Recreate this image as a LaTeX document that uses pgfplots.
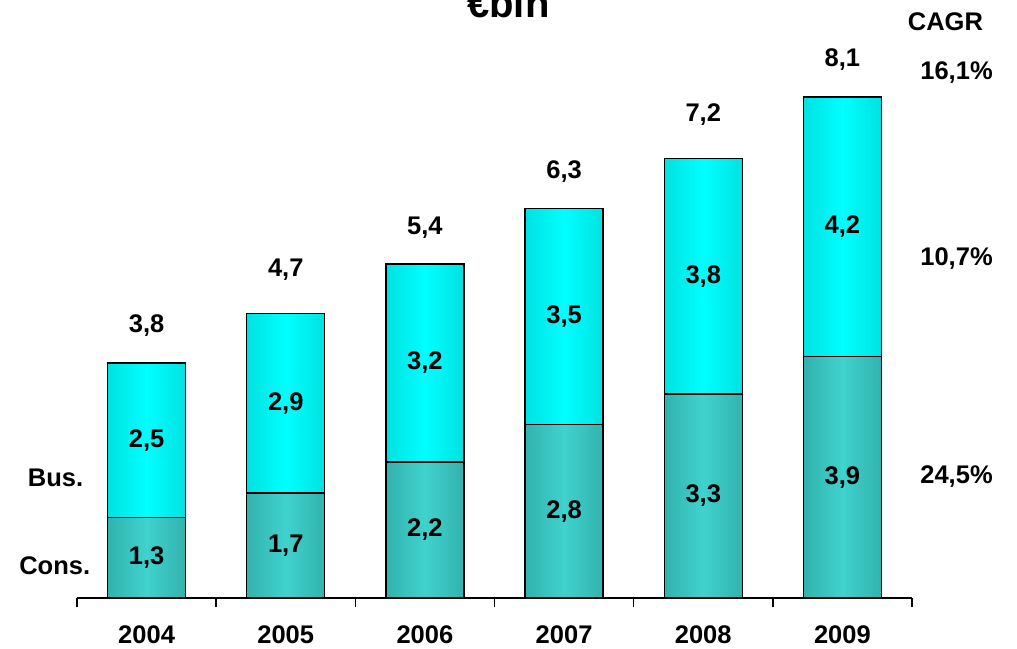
\documentclass[border=0pt]{standalone}
\usepackage{pgfplots}
\pgfplotsset{compat=1.18}
\usepackage{fontspec}
\setmainfont{Liberation Sans}
\definecolor{tealedge}{RGB}{36,146,142}
\definecolor{tealmid}{RGB}{64,210,206}
\definecolor{cyanedge}{RGB}{0,196,196}
\definecolor{cyanmid}{RGB}{0,255,255}
\pgfdeclarehorizontalshading{tealshade}{100bp}{color(0bp)=(tealedge); color(50bp)=(tealmid); color(100bp)=(tealedge)}
\pgfdeclarehorizontalshading{cyanshade}{100bp}{color(0bp)=(cyanedge); color(50bp)=(cyanmid); color(100bp)=(cyanedge)}
\tikzset{lbl/.style={font=\fontsize{25.5}{30}\selectfont\bfseries}}
\pgfplotsset{
  busbar/.style={draw=black, line width=1.3pt, shade, shading=cyanshade},
  consbar/.style={draw=black, line width=1.3pt, shade, shading=tealshade},
}
\begin{document}
\begin{tikzpicture}
\begin{axis}[
  set layers,
  at={(77pt,50pt)}, anchor=south west,
  scale only axis, width=835pt, height=587.6pt,
  xmin=-0.5, xmax=5.5, ymin=0, ymax=9.5,
  clip=false,
  hide y axis,
  axis x line=bottom,
  x axis line style={-, line width=1.5pt},
  xtick={0,1,2,3,4,5},
  xticklabels={2004,2005,2006,2007,2008,2009},
  major tick length=0pt,
  minor xtick={-0.5,0.5,1.5,2.5,3.5,4.5,5.5},
  minor tick length=9pt,
  tick align=outside,
  minor tick style={line width=1.5pt, black},
  xticklabel style={lbl, yshift=-24pt},
  ybar, bar width=0.56, bar shift=0pt,
]
% Bus. + Cons. (bar totals), one plot per bar so each bar gets its own shading
\addplot[busbar] coordinates {(0,3.8)};
\addplot[busbar] coordinates {(1,4.6)};
\addplot[busbar] coordinates {(2,5.4)};
\addplot[busbar] coordinates {(3,6.3)};
\addplot[busbar] coordinates {(4,7.1)};
\addplot[busbar] coordinates {(5,8.1)};
% Cons.
\addplot[consbar] coordinates {(0,1.3)};
\addplot[consbar] coordinates {(1,1.7)};
\addplot[consbar] coordinates {(2,2.2)};
\addplot[consbar] coordinates {(3,2.8)};
\addplot[consbar] coordinates {(4,3.3)};
\addplot[consbar] coordinates {(5,3.9)};
\begin{pgfonlayer}{axis foreground}
\node[lbl] at (axis cs:0,0.65) {1,3};
\node[lbl] at (axis cs:1,0.85) {1,7};
\node[lbl] at (axis cs:2,1.10) {2,2};
\node[lbl] at (axis cs:3,1.40) {2,8};
\node[lbl] at (axis cs:4,1.65) {3,3};
\node[lbl] at (axis cs:5,1.95) {3,9};
\node[lbl] at (axis cs:0,2.55) {2,5};
\node[lbl] at (axis cs:1,3.15) {2,9};
\node[lbl] at (axis cs:2,3.80) {3,2};
\node[lbl] at (axis cs:3,4.55) {3,5};
\node[lbl] at (axis cs:4,5.20) {3,8};
\node[lbl] at (axis cs:5,6.00) {4,2};
\node[lbl] at (axis cs:0,4.41) {3,8};
\node[lbl] at (axis cs:1,5.30) {4,7};
\node[lbl] at (axis cs:2,5.98) {5,4};
\node[lbl] at (axis cs:3,6.89) {6,3};
\node[lbl] at (axis cs:4,7.81) {7,2};
\node[lbl] at (axis cs:5,8.70) {8,1};
\node[lbl, anchor=east] at (axis cs:-0.43,1.94) {Bus.};
\node[lbl, anchor=east] at (axis cs:-0.38,0.52) {Cons.};
\node[lbl] at (axis cs:5.74,9.31) {CAGR};
\node[lbl] at (axis cs:5.82,8.49) {16,1\%};
\node[lbl] at (axis cs:5.82,5.48) {10,7\%};
\node[lbl] at (axis cs:5.82,1.96) {24,5\%};
\node[anchor=base, font=\fontsize{40}{46}\selectfont\bfseries] at (axis cs:2.6,9.39) {€bln};
\end{pgfonlayer}
\end{axis}
\pgfresetboundingbox
\useasboundingbox (0,0) rectangle (1017pt,648pt);
\end{tikzpicture}
\end{document}
